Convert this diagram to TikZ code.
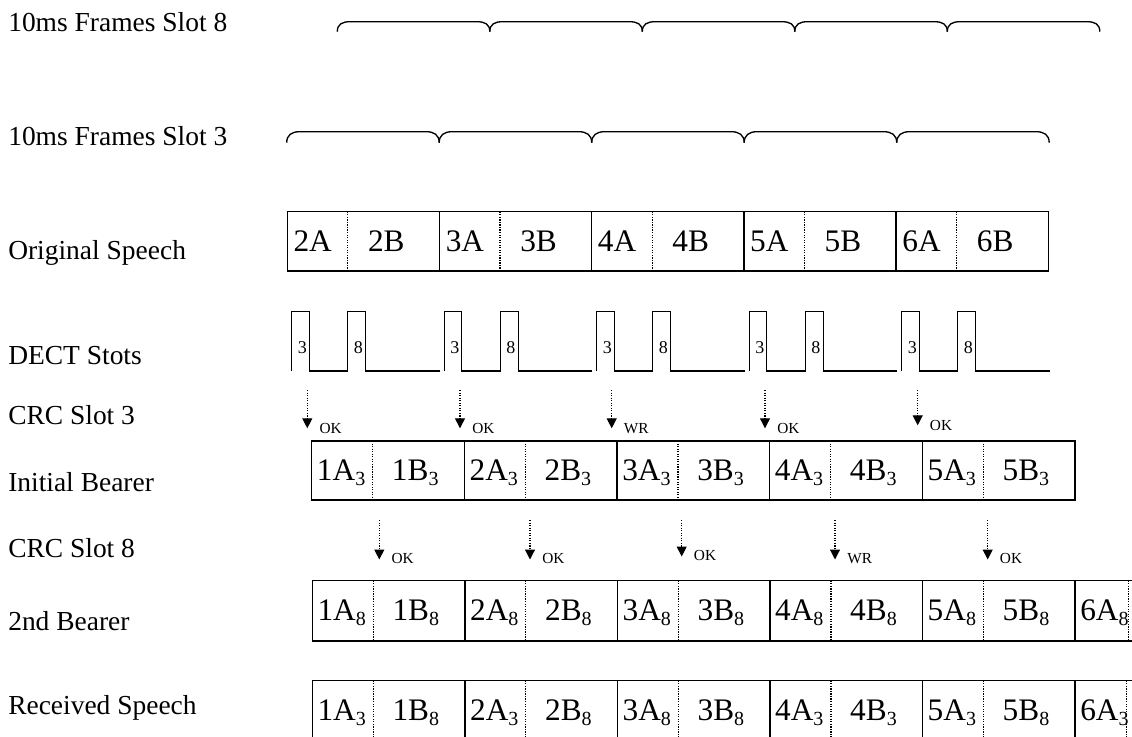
\documentclass[tikz,border=0pt]{standalone}
\usepackage{fontspec}
\setmainfont{Liberation Serif}
\usetikzlibrary{arrows.meta}

\newcommand{\cellsub}[1]{\raisebox{-4pt}{\fontsize{15}{15}\selectfont #1}}

\tikzset{
  rowlabel/.style={anchor=base west, inner sep=0pt, font=\fontsize{20.6}{24}\selectfont},
  celltext/.style={anchor=base west, inner sep=0pt, font=\fontsize{23.5}{27}\selectfont},
  slotnum/.style={anchor=base west, inner sep=0pt, font=\fontsize{13.5}{16}\selectfont},
  crctext/.style={anchor=base west, inner sep=0pt, font=\fontsize{11.5}{13}\selectfont},
  boxline/.style={line width=1pt},
  halfline/.style={line width=0.9pt, densely dotted},
  crcarrow/.style={line width=0.9pt, densely dotted, -{Triangle[width=7.5pt, length=7.5pt]}},
}

\begin{document}
\begin{tikzpicture}[x=0.75pt, y=-0.75pt]
  \useasboundingbox (0,0) rectangle (1132,736);
  \clip (0,0) rectangle (1132,736);

  % Row labels
  \foreach \txt/\y [count=\i] in {10ms Frames Slot 8/31, 10ms Frames Slot 3/145,
      Original Speech/259, DECT Stots/364, CRC Slot 3/424, Initial Bearer/491,
      CRC Slot 8/557, 2nd Bearer/630, Received Speech/714}
    \node[rowlabel] (lbl\i) at (8,\y) {\txt};

  % 10ms frames, slot 8 and slot 3
  \foreach \x in {337.3, 489.8, 642.3, 794.8, 947.3}
    \draw[boxline] (\x,31.7) .. controls (\x,24) and (\x+5,21.7) .. (\x+13,21.7)
      -- (\x+139.5,21.7) .. controls (\x+147.5,21.7) and (\x+152.5,24) .. (\x+152.5,31.7);
  \foreach \x in {286.7, 439.2, 591.7, 744.2, 896.7}
    \draw[boxline] (\x,142.7) .. controls (\x,135) and (\x+5,131.7) .. (\x+13,131.7)
      -- (\x+139.5,131.7) .. controls (\x+147.5,131.7) and (\x+152.5,135) .. (\x+152.5,142.7);

  % Original speech
  \draw[boxline] (287.3,211.7) rectangle (1048.3,271);
  \foreach \k in {2,...,6} {
    \pgfmathsetmacro\xa{287.3+152.2*(\k-2)}
    \draw[boxline] (\xa,211.7) -- (\xa,271);
    \draw[halfline] (\xa+60.5,211.7) -- (\xa+60.5,271);
    \node[celltext] (osA\k) at (\xa+6,251.7) {\k A};
    \node[celltext] (osB\k) at (\xa+80.5,251.7) {\k B};
  }

  % DECT slots
  \foreach \s [count=\i] in {291.7, 444.2, 596.7, 749.2, 901.7} {
    \draw[boxline] (\s,371) -- (\s,311.7) -- (\s+17.5,311.7) -- (\s+17.5,371)
      -- (\s+56,371) -- (\s+56,311.7) -- (\s+74,311.7) -- (\s+74,371) -- (\s+148,371);
    \node[slotnum] (sl3\i) at (\s+6,353) {3};
    \node[slotnum] (sl8\i) at (\s+62,353) {8};
  }

  % CRC slot 3
  \foreach \x/\res/\b [count=\i] in {307.3/OK/433, 460/OK/433, 611.7/WR/433,
      765/OK/433, 917.7/OK/430} {
    \coordinate (ca\i) at (\x,390);
    \coordinate (cb\i) at (\x,\b-4.7);
    \draw[crcarrow] (ca\i) -- (cb\i);
    \node[crctext] (cr\i) at (\x+12,\b) {\res};
  }

  % Initial bearer
  \draw[boxline] (311.7,441) rectangle (1075,500);
  \foreach \k in {1,...,5} {
    \pgfmathsetmacro\xa{311.7+152.66*(\k-1)}
    \draw[boxline] (\xa,441) -- (\xa,500);
    \draw[halfline] (\xa+61,441) -- (\xa+61,500);
    \node[celltext] (ibA\k) at (\xa+5,480) {\k A\cellsub{3}};
    \node[celltext] (ibB\k) at (\xa+80,480) {\k B\cellsub{3}};
  }

  % CRC slot 8
  \foreach \x/\res/\b [count=\i] in {379.3/OK/563, 530/OK/563, 681.7/OK/560,
      835/WR/563, 987.7/OK/563} {
    \coordinate (da\i) at (\x,520);
    \coordinate (db\i) at (\x,\b-3.5);
    \draw[crcarrow] (da\i) -- (db\i);
    \node[crctext] (dr\i) at (\x+12,\b) {\res};
  }

  % 2nd bearer
  \draw[boxline] (1140,580.7) -- (312.3,580.7) -- (312.3,641) -- (1140,641);
  \foreach \k in {1,...,5} {
    \pgfmathsetmacro\xa{312.3+152.54*(\k-1)}
    \draw[boxline] (\xa,580.7) -- (\xa,641);
    \draw[halfline] (\xa+61,580.7) -- (\xa+61,641);
    \node[celltext] (sbA\k) at (\xa+5,620) {\k A\cellsub{8}};
    \node[celltext] (sbB\k) at (\xa+80,620) {\k B\cellsub{8}};
  }
  \draw[boxline] (1075,580.7) -- (1075,641);
  \draw[halfline] (1128.3,580.7) -- (1128.3,641);
  \node[celltext] (sbA6) at (1080,620) {6A\cellsub{8}};

  % Received speech
  \draw[boxline] (1140,680.7) -- (312.3,680.7) -- (312.3,745);
  \foreach \k/\sa/\sb in {1/3/8, 2/3/8, 3/8/8, 4/3/3, 5/3/8} {
    \pgfmathsetmacro\xa{312.3+152.54*(\k-1)}
    \draw[boxline] (\xa,680.7) -- (\xa,745);
    \draw[halfline] (\xa+61,680.7) -- (\xa+61,745);
    \node[celltext] (rsA\k) at (\xa+5,720) {\k A\cellsub{\sa}};
    \node[celltext] (rsB\k) at (\xa+80,720) {\k B\cellsub{\sb}};
  }
  \draw[boxline] (1075,680.7) -- (1075,745);
  \draw[halfline] (1126.7,680.7) -- (1126.7,745);
  \node[celltext] (rsA6) at (1080,720) {6A\cellsub{3}};
\end{tikzpicture}
\end{document}
